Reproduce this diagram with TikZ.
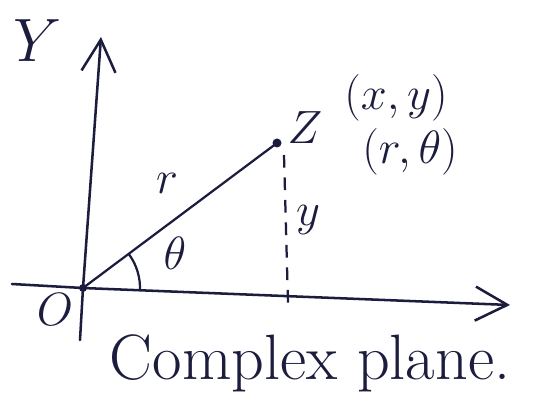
\documentclass[tikz,border=0pt]{standalone}
\usepackage{amsmath,amssymb}
\usepackage{xcolor}
\usetikzlibrary{arrows.meta}

\definecolor{ink}{RGB}{28,28,62}

\tikzset{
  axis/.style={ink, line width=1.8pt, line cap=round,
    -{Straight Barb[length=8mm,width=8.5mm,line width=1.8pt]}},
  lbl/.style={ink, font=\huge, scale=1.6, transform shape},
  axislbl/.style={ink, font=\huge, scale=2.1, transform shape},
  titlelbl/.style={ink, font=\huge, scale=2.2, transform shape},
}

\begin{document}
\begin{tikzpicture}[x=0.025cm,y=0.025cm]
  % Frame
  \useasboundingbox (0,0) rectangle (542,403);

  % Axes
  \coordinate (O) at (83,115);
  \coordinate (Ytop) at (101,366);
  \coordinate (Ybot) at (80,63);
  \coordinate (Xleft) at (12,119);
  \coordinate (Xtip) at (510,98);
  \draw[axis] (Ybot) -- (O) -- (Ytop);
  \draw[axis] (Xleft) -- (O) -- (Xtip);
  \fill[ink] (O) circle (4);

  % Point Z and radius
  \coordinate (Z) at (277,260);
  \draw[ink, line width=1.6pt] (O) -- (Z);
  \fill[ink] (Z) circle (4.5);

  % Ordinate (dashed)
  \coordinate (Ztop) at (284,248);
  \coordinate (Zfoot) at (288,100);
  \draw[ink, line width=1.6pt, dash pattern={on 9pt off 7pt}] (Ztop) -- (Zfoot);

  % Angle theta
  \draw[ink, line width=1.6pt] ([shift={(-3:57)}]O) arc (-3:37:57);

  % Labels
  \node[axislbl] (ylab) at (38,362) {$Y$};
  \node[lbl] (olab) at (55,93) {$O$};
  \node[lbl] (rlab) at (167,220) {$r$};
  \node[lbl] (thlab) at (175,150) {$\theta$};
  \node[lbl] (ylen) at (308,183) {$y$};
  \node[lbl] (zlab) at (305,275) {$Z$};
  \node[lbl] (xy) at (396,305) {$(x,y)$};
  \node[lbl] (rth) at (410,251) {$(r,\theta)$};
  \node[titlelbl] (title) at (310,40) {Complex plane.};

\end{tikzpicture}
\end{document}
